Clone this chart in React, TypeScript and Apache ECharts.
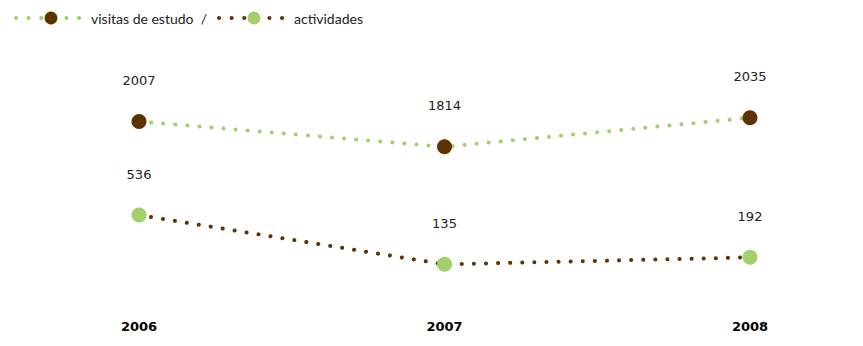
import React, { useEffect, useRef } from "react";
import * as echarts from "echarts";

const years = ["2006", "2007", "2008"];
const visitasDeEstudo = [2007, 1814, 2035];
const actividades = [536, 135, 192];

const BROWN = "#5f3300";
const GREEN = "#a3d06a";

export default function App() {
  const ref = useRef<HTMLDivElement>(null);

  useEffect(() => {
    if (!ref.current) return;
    const chart = echarts.init(ref.current, undefined, { renderer: "svg" });
    const dotted = (color: string) => ({
      color,
      width: 4,
      type: [0.1, 12] as number[],
      cap: "round" as const,
    });
    const valueLabel = {
      show: true,
      position: "top" as const,
      distance: 27,
      color: "#222",
      fontFamily: "DejaVu Sans",
      fontSize: 13,
    };
    chart.setOption({
      animation: false,
      legend: {
        left: 9,
        top: 6,
        itemWidth: 70,
        itemHeight: 16,
        itemGap: 10,
        lineStyle: { width: 4, type: [0.1, 12.5], cap: "round" },
        textStyle: { color: "#222", fontFamily: "Lato", fontSize: 14 },
        formatter: (name: string) =>
          name === "visitas de estudo" ? name + "  /" : name,
        data: ["visitas de estudo", "actividades"],
      },
      grid: { left: 139, right: 113, top: 41, bottom: 46 },
      xAxis: {
        type: "category",
        data: years,
        boundaryGap: false,
        axisLine: { show: false },
        axisTick: { show: false },
        splitLine: { show: false },
        axisLabel: {
          color: "#000",
          fontFamily: "DejaVu Sans",
          fontWeight: "bold",
          fontSize: 13,
          margin: 20,
        },
      },
      yAxis: [
        { type: "value", min: 645, max: 2621, show: false },
        { type: "value", min: -155, max: 1952, show: false },
      ],
      series: [
        {
          name: "visitas de estudo",
          type: "line",
          yAxisIndex: 0,
          data: visitasDeEstudo,
          symbol: "circle",
          symbolSize: 15,
          itemStyle: { color: BROWN },
          lineStyle: dotted(GREEN),
          label: valueLabel,
          z: 3,
        },
        {
          name: "actividades",
          type: "line",
          yAxisIndex: 1,
          data: actividades,
          symbol: "circle",
          symbolSize: 15,
          itemStyle: { color: GREEN },
          lineStyle: dotted(BROWN),
          label: valueLabel,
          z: 3,
        },
      ],
    });
    return () => chart.dispose();
  }, []);

  return (
    <div
      ref={ref}
      style={{ position: "absolute", left: 0, top: 0, width: 863, height: 346 }}
    />
  );
}
